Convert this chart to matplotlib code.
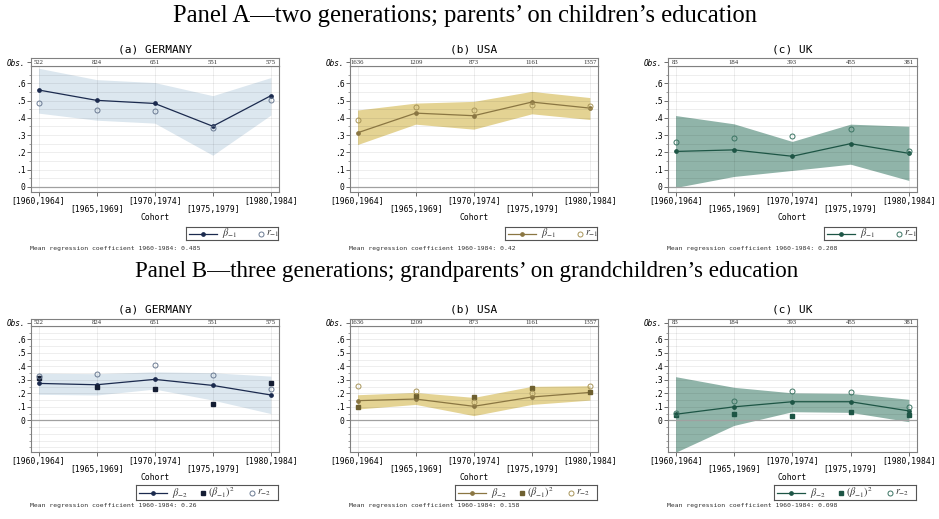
import numpy as np
import matplotlib.pyplot as plt

plt.rcParams['mathtext.fontset'] = 'stix'
plt.rcParams['font.family'] = 'DejaVu Sans Mono'

# ---------------------------------------------------------------- data
cohorts = ["[1960,1964]", "[1965,1969]", "[1970,1974]", "[1975,1979]", "[1980,1984]"]
countries = ["GERMANY", "USA", "UK"]
letters = ["(a)", "(b)", "(c)"]

obs_de = [522, 824, 651, 551, 575]
obs_us = [1636, 1209, 873, 1161, 1357]
obs_uk = [83, 184, 393, 455, 381]

# Panel A: parents on children
de_a_beta = [0.561, 0.501, 0.483, 0.351, 0.528]
de_a_r = [0.483, 0.447, 0.437, 0.338, 0.503]
de_a_hi = [0.687, 0.621, 0.604, 0.528, 0.633]
de_a_lo = [0.427, 0.386, 0.369, 0.183, 0.416]

us_a_beta = [0.313, 0.427, 0.412, 0.491, 0.456]
us_a_r = [0.390, 0.462, 0.447, 0.474, 0.468]
us_a_hi = [0.445, 0.485, 0.495, 0.553, 0.517]
us_a_lo = [0.245, 0.363, 0.334, 0.423, 0.390]

uk_a_beta = [0.205, 0.214, 0.177, 0.250, 0.194]
uk_a_r = [0.259, 0.283, 0.296, 0.337, 0.210]
uk_a_hi = [0.413, 0.365, 0.263, 0.363, 0.351]
uk_a_lo = [-0.004, 0.060, 0.095, 0.131, 0.037]

# Panel B: grandparents on grandchildren
de_b_beta = [0.274, 0.264, 0.304, 0.259, 0.188]
de_b_r = [0.328, 0.343, 0.412, 0.338, 0.230]
de_b_hi = [0.350, 0.346, 0.360, 0.353, 0.328]
de_b_lo = [0.193, 0.188, 0.232, 0.150, 0.050]

us_b_beta = [0.146, 0.158, 0.104, 0.173, 0.207]
us_b_r = [0.254, 0.215, 0.133, 0.205, 0.254]
us_b_hi = [0.190, 0.207, 0.170, 0.252, 0.257]
us_b_lo = [0.084, 0.118, 0.035, 0.118, 0.150]

uk_b_beta = [0.045, 0.100, 0.138, 0.138, 0.070]
uk_b_r = [0.054, 0.143, 0.219, 0.209, 0.097]
uk_b_hi = [0.324, 0.245, 0.204, 0.200, 0.156]
uk_b_lo = [-0.237, -0.038, 0.064, 0.059, -0.010]

mean_a = [0.485, 0.42, 0.208]
mean_b = [0.26, 0.158, 0.098]

ytick_vals = [0, 0.1, 0.2, 0.3, 0.4, 0.5, 0.6]
ytick_labels = ["0", ".1", ".2", ".3", ".4", ".5", ".6"]

heading_a = "Panel A\u2014two generations; parents\u2019 on children\u2019s education"
heading_b = "Panel B\u2014three generations; grandparents\u2019 on grandchildren\u2019s education"

# ---------------------------------------------------------------- layout
W, H = 939, 519
fig = plt.figure(figsize=(W / 100, H / 100), dpi=100)


def box(x0, y0, x1, y1):
    """Pixel box (top-left origin) -> figure rect."""
    return [x0 / W, 1 - y1 / H, (x1 - x0) / W, (y1 - y0) / H]


COLS = [(31, 279), (350, 598), (668, 917)]
ROWS = [
    dict(strip=58, top=66, bottom=192, ylim=(-0.03, 0.70), title_y=49,
         leg=(227, 240), mean_y=249, heading_y=16, leg_w=92),
    dict(strip=319, top=326, bottom=452, ylim=(-0.235, 0.70), title_y=310,
         leg=(485, 500), mean_y=506, heading_y=272, leg_w=142),
]

STYLE = {
    "GERMANY": dict(fill="#dce7ef", line="#1b2a4e", circ="#6b7b93", sq="#141d33"),
    "USA": dict(fill="#e4d393", line="#8a7642", circ="#a8955a", sq="#6e6030"),
    "UK": dict(fill="#90b4a9", line="#1d5545", circ="#3b7463", sq="#1d5545"),
}
SPINE = "#808080"
PX2PT = 0.72


def style_spines(a, color=SPINE, lw=0.8):
    for s in a.spines.values():
        s.set_color(color)
        s.set_linewidth(lw)


def panel(row, col, obs, beta, r, lo, hi, mean, beta_lbl, r_lbl, sq=None, sq_lbl=None):
    name = countries[col]
    st = STYLE[name]
    x0, x1 = COLS[col]
    xs = np.arange(len(cohorts))
    xlim = (-0.13, len(cohorts) - 1 + 0.14)

    ax = fig.add_axes(box(x0, row["top"], x1, row["bottom"]))
    ax.set_xlim(*xlim)
    ax.set_ylim(*row["ylim"])
    style_spines(ax)

    # grid
    lo_lim, hi_lim = row["ylim"]
    minor = np.round(np.arange(-0.5, 0.71, 0.05), 3)
    minor = minor[(minor > lo_lim) & (minor < hi_lim)]
    for v in minor:
        ax.axhline(v, color="k", alpha=0.08, lw=0.6, zorder=1.5)
    for xv in xs:
        ax.axvline(xv, color="k", alpha=0.08, lw=0.6, zorder=1.5)

    ax.fill_between(xs, lo, hi, color=st["fill"], lw=0, zorder=1)
    ax.axhline(0, color="#a0a0a0", lw=0.9, zorder=2)

    ax.plot(xs, beta, color=st["line"], lw=0.9, marker="o", ms=2.4, zorder=4)
    if sq is not None:
        ax.plot(xs, sq, ls="none", marker="s", ms=3.3, color=st["sq"], zorder=5)
    ax.plot(xs, r, ls="none", marker="o", ms=3.6, mfc="none", mec=st["circ"],
            mew=0.7, zorder=5)

    ax.set_yticks(ytick_vals)
    ax.set_yticklabels(ytick_labels)
    ax.set_yticks(minor, minor=True)
    ax.tick_params(axis="y", which="major", length=3, width=0.6, color="#555555",
                   labelsize=5.8, pad=1)
    ax.tick_params(axis="y", which="minor", length=1.8, width=0.5, color="#777777")
    ax.set_xticks(xs)
    ax.set_xticklabels([])
    ax.tick_params(axis="x", length=3, width=0.6, color="#555555")

    for i, lab in enumerate(cohorts):
        off = 9.7 if i % 2 == 0 else 17.2
        ax.annotate(lab, xy=(xs[i], 0), xycoords=("data", "axes fraction"),
                    xytext=(0, -off * PX2PT), textcoords="offset points",
                    ha="center", va="center", fontsize=5.8)
    ax.annotate("Cohort", xy=(0.5, 0), xycoords="axes fraction",
                xytext=(0, -26 * PX2PT), textcoords="offset points",
                ha="center", va="center", fontsize=5.8)

    # observation strip
    sax = fig.add_axes(box(x0, row["strip"], x1, row["top"]))
    sax.set_xlim(*xlim)
    sax.set_ylim(0, 1)
    sax.set_xticks([])
    sax.set_yticks([0.5])
    sax.set_yticklabels(["Obs."], fontstyle="italic")
    sax.tick_params(axis="y", length=3, width=0.6, color="#555555", labelsize=5.6, pad=1)
    style_spines(sax)
    for xv, n in zip(xs, obs):
        sax.text(xv, 0.45, str(n), ha="center", va="center",
                 family="Liberation Serif", fontsize=4.9, color="#333333")

    fig.text((x0 + x1) / 2 / W, 1 - row["title_y"] / H,
             f"{letters[col]} {name}", ha="center", va="center", fontsize=8)

    # legend box
    ly0, ly1 = row["leg"]
    lw_ = row["leg_w"]
    lax = fig.add_axes(box(x1 - 1 - lw_, ly0, x1 - 1, ly1))
    lax.set_xlim(0, lw_)
    lax.set_ylim(0, ly1 - ly0)
    lax.set_xticks([])
    lax.set_yticks([])
    style_spines(lax, "#555555", 0.8)
    mid = (ly1 - ly0) / 2
    lax.plot([3, 31], [mid, mid], color=st["line"], lw=0.9)
    lax.plot([17], [mid], marker="o", ms=2.4, color=st["line"])
    lax.text(36, mid, beta_lbl, ha="left", va="center", fontsize=7.4, color="#333333")
    if sq is not None:
        lax.plot([67], [mid], marker="s", ms=3.3, color=st["sq"])
        lax.text(72, mid, sq_lbl, ha="left", va="center", fontsize=7.4, color="#333333")
        cx = 116
    else:
        cx = 75
    lax.plot([cx], [mid], marker="o", ms=3.6, mfc="none", mec=st["circ"], mew=0.7)
    lax.text(cx + 5, mid, r_lbl, ha="left", va="center", fontsize=7.4, color="#333333")

    fig.text((x0 - 1) / W, 1 - row["mean_y"] / H,
             f"Mean regression coefficient 1960-1984: {mean:g}",
             ha="left", va="center", fontsize=4.6, color="#333333")


ra, rb = ROWS
fig.text(0.4955, 1 - ra["heading_y"] / H, heading_a, ha="center", va="center",
         family="Liberation Serif", fontsize=17.7)
fig.text(0.497, 1 - rb["heading_y"] / H, heading_b, ha="center", va="center",
         family="Liberation Serif", fontsize=16.6)

panel_a = [
    (obs_de, de_a_beta, de_a_r, de_a_lo, de_a_hi),
    (obs_us, us_a_beta, us_a_r, us_a_lo, us_a_hi),
    (obs_uk, uk_a_beta, uk_a_r, uk_a_lo, uk_a_hi),
]
panel_b = [
    (obs_de, de_b_beta, de_b_r, de_b_lo, de_b_hi),
    (obs_us, us_b_beta, us_b_r, us_b_lo, us_b_hi),
    (obs_uk, uk_b_beta, uk_b_r, uk_b_lo, uk_b_hi),
]

for c, (obs, beta, r, lo, hi) in enumerate(panel_a):
    panel(ra, c, obs, beta, r, lo, hi, mean_a[c], r"$\beta_{-1}$", r"$r_{-1}$")

for c, (obs, beta, r, lo, hi) in enumerate(panel_b):
    parent_beta = panel_a[c][1]
    panel(rb, c, obs, beta, r, lo, hi, mean_b[c], r"$\beta_{-2}$", r"$r_{-2}$",
          sq=np.square(parent_beta), sq_lbl=r"$(\beta_{-1})^2$")

fig.savefig("out.png", dpi=100, facecolor="white")
